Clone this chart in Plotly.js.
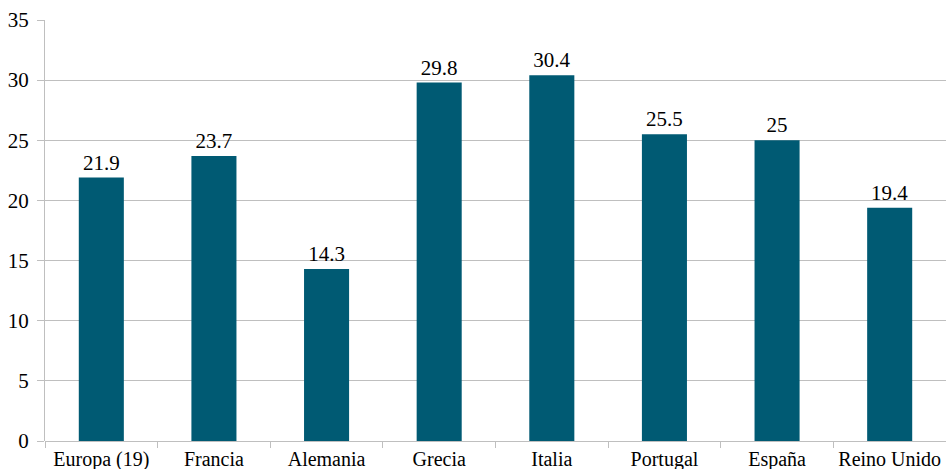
<!DOCTYPE html>
<html>
<head>
<meta charset="utf-8">
<script src="https://cdn.plot.ly/plotly-3.0.1.min.js"></script>
<style>html,body{margin:0;padding:0;background:#fff;}#chart{width:946px;height:469px;}</style>
</head>
<body>
<div id="chart"></div>
<script>
const categories = ["Europa (19)", "Francia", "Alemania", "Grecia", "Italia", "Portugal", "España", "Reino Unido"];
const values = [21.9, 23.7, 14.3, 29.8, 30.4, 25.5, 25, 19.4];
const yTicks = [0, 5, 10, 15, 20, 25, 30, 35];

const font = {family: "'Liberation Serif', 'DejaVu Serif', serif", size: 21, color: "#000"};
const xFont = {family: "'Liberation Serif', 'DejaVu Serif', serif", size: 20, color: "#000"};

Plotly.newPlot("chart", [{
  type: "bar",
  x: categories,
  y: values,
  text: values.map(String),
  textposition: "outside",
  cliponaxis: false,
  textfont: font,
  marker: {color: "#005a73"},
  width: 0.4,
  hoverinfo: "none"
}], {
  width: 946,
  height: 469,
  margin: {l: 45, r: 0, t: 20, b: 28, pad: 0},
  paper_bgcolor: "#fff",
  plot_bgcolor: "#fff",
  font: font,
  showlegend: false,
  xaxis: {
    type: "category",
    tickson: "boundaries",
    ticks: "outside",
    ticklen: 6,
    tickcolor: "#bfbfbf",
    tickangle: 0,
    showgrid: false,
    showline: false,
    tickfont: xFont,
    ticklabelstandoff: 4,
    fixedrange: true
  },
  yaxis: {
    range: [0, 35],
    tickvals: yTicks,
    ticks: "outside",
    ticklen: 7,
    tickcolor: "#bfbfbf",
    showline: true,
    linecolor: "#bfbfbf",
    linewidth: 1,
    gridcolor: "#bfbfbf",
    zeroline: true,
    zerolinecolor: "#bfbfbf",
    zerolinewidth: 1,
    tickfont: font,
    ticklabelstandoff: 4,
    fixedrange: true
  }
}, {displayModeBar: false, staticPlot: true});
</script>
</body>
</html>
